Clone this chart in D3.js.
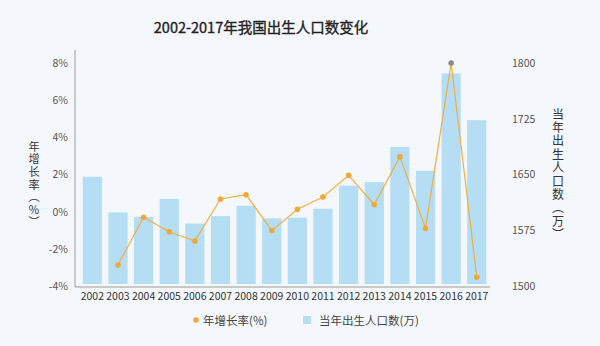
<!DOCTYPE html>
<html><head><meta charset="utf-8">
<script src="https://cdn.jsdelivr.net/npm/d3@7"></script>
<style>
html,body{margin:0;padding:0;background:#f4f8fc;}
svg{display:block;font-family:"Noto Sans CJK SC","Noto Sans",sans-serif;}
</style></head>
<body><svg id="c" width="600" height="346"></svg>
<script>
const years = ["2002","2003","2004","2005","2006","2007","2008","2009","2010","2011","2012","2013","2014","2015","2016","2017"];
const births = [1647,1599,1593,1617,1584,1594,1608,1591,1592,1604,1635,1640,1687,1655,1786,1723];
const growth = [null,-2.87,-0.30,-1.08,-1.58,0.68,0.91,-1.02,0.13,0.79,1.96,0.38,2.96,-0.90,8.0,-3.53];
const leftTicks = [-4,-2,0,2,4,6,8];
const rightTicks = [1500,1575,1650,1725,1800];
const leftTitle = "年增长率（%）";
const rightTitle = "当年出生人口数（万）";

(function(){
const svg = d3.select("#c");
const yTop = 63, yBottom = 286;
const x = d3.scaleBand().domain(years).range([79.5, 489.6]).paddingInner(0.25).paddingOuter(0.125);
const yL = d3.scaleLinear().domain([-4, 8]).range([yBottom, yTop]);
const yR = d3.scaleLinear().domain([1500, 1800]).range([yBottom, yTop]);
const tickFont = "'Noto Sans CJK SC',sans-serif";

svg.append("text").attr("x", 261).attr("y", 33).attr("text-anchor", "middle")
  .attr("font-size", 14.5).attr("font-weight", 400).attr("fill", "#222")
  .attr("stroke", "#222").attr("stroke-width", 0.35)
  .text("2002-2017年我国出生人口数变化");

// bars
svg.append("g").selectAll("rect").data(years).join("rect")
  .attr("x", d => x(d)).attr("width", x.bandwidth())
  .attr("y", (d, i) => yR(births[i]))
  .attr("height", (d, i) => yR(1500) - 2 - yR(births[i]))
  .attr("fill", "#b5ddf4");

// left axis
const gl = svg.append("g").attr("transform", "translate(75,0)")
  .call(d3.axisLeft(yL).tickValues(leftTicks).tickSize(0).tickPadding(7).tickFormat(d => d + "%"));
gl.select(".domain").remove();
gl.selectAll("text").attr("font-size", 10.5).attr("fill", "#555").attr("font-family", tickFont);
svg.append("line").attr("x1", 75).attr("x2", 75).attr("y1", 50).attr("y2", 287).attr("stroke", "#999");

// right axis
const gr = svg.append("g").attr("transform", "translate(505,0)")
  .call(d3.axisRight(yR).tickValues(rightTicks).tickSize(0).tickPadding(7).tickFormat(d3.format("d")));
gr.select(".domain").remove();
gr.selectAll("text").attr("font-size", 10.5).attr("fill", "#555").attr("font-family", tickFont);

// bottom axis
const gb = svg.append("g").attr("transform", "translate(0,287)")
  .call(d3.axisBottom(x).tickSize(0).tickPadding(6));
gb.select(".domain").attr("d", "M75,0H490").attr("stroke", "#999");
gb.selectAll("text").attr("font-size", 10.5).attr("fill", "#333").attr("font-family", tickFont);

// line
const pts = years.map((d, i) => ({d, v: growth[i]})).filter(p => p.v !== null);
svg.append("path").datum(pts)
  .attr("d", d3.line().x(p => x(p.d) + x.bandwidth() / 2).y(p => yL(p.v)))
  .attr("fill", "none").attr("stroke", "#f0ae3c").attr("stroke-width", 1.2);
svg.append("g").selectAll("circle").data(pts).join("circle")
  .attr("cx", p => x(p.d) + x.bandwidth() / 2).attr("cy", p => yL(p.v)).attr("r", 2.8)
  .attr("fill", p => p.d === "2016" ? "#8a8a8a" : "#f0a83a");

// vertical axis titles
svg.append("text").attr("x", 34).attr("y", 141)
  .style("writing-mode", "vertical-rl").style("text-orientation", "upright")
  .attr("font-size", 11.2).attr("letter-spacing", 1.4).attr("fill", "#333").text(leftTitle);
svg.append("text").attr("x", 558).attr("y", 108)
  .style("writing-mode", "vertical-rl").style("text-orientation", "upright")
  .attr("font-size", 12).attr("letter-spacing", 1.4).attr("fill", "#333").text(rightTitle);

// legend
svg.append("circle").attr("cx", 196).attr("cy", 320).attr("r", 2.8).attr("fill", "#f0a83a");
svg.append("text").attr("x", 203).attr("y", 324.5).attr("font-size", 11.5).attr("fill", "#444").text("年增长率(%)");
svg.append("rect").attr("x", 303).attr("y", 316).attr("width", 8).attr("height", 8).attr("fill", "#b5ddf4");
svg.append("text").attr("x", 319).attr("y", 324.5).attr("font-size", 11.5).attr("fill", "#444").text("当年出生人口数(万)");
})();
</script></body></html>
